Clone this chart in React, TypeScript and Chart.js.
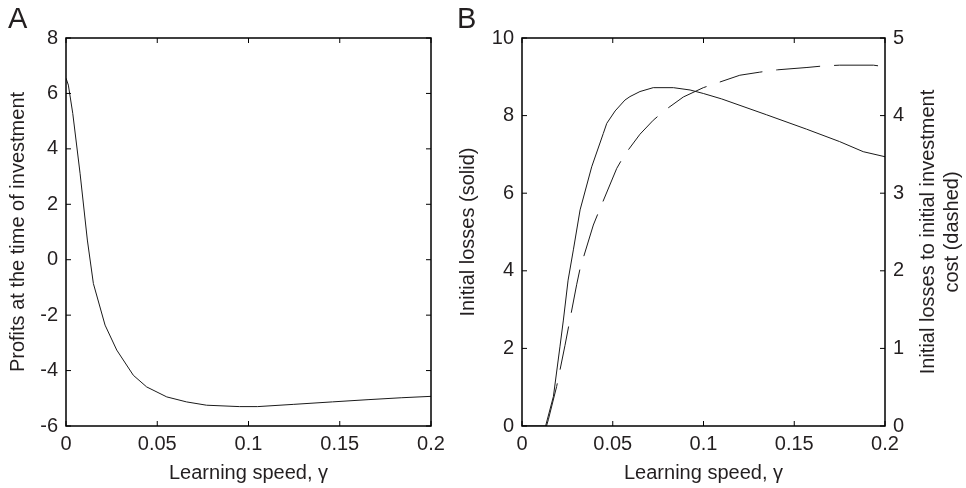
import React, { useEffect, useRef } from "react";
import { Chart, registerables } from "chart.js";

Chart.register(...registerables);

// Panel A: profits at the time of investment vs learning speed
const gammaA = [0, 0.0013, 0.0037, 0.0077, 0.0117, 0.015, 0.0214, 0.0278, 0.0369, 0.0442, 0.0552, 0.066, 0.077, 0.095, 0.105, 0.1245, 0.146, 0.1655, 0.184, 0.2];
const profitsA = [6.55, 6.3, 5.28, 3.12, 0.71, -0.86, -2.36, -3.26, -4.17, -4.59, -4.95, -5.13, -5.25, -5.3, -5.3, -5.22, -5.13, -5.05, -4.98, -4.93];

// Panel B: initial losses (solid, left axis)
const gammaSolid = [0, 0.013, 0.0173, 0.0209, 0.0228, 0.0254, 0.0283, 0.032, 0.0384, 0.0448, 0.0467, 0.0513, 0.0567, 0.0595, 0.065, 0.0723, 0.0834, 0.0926, 0.0999, 0.11, 0.1348, 0.1568, 0.175, 0.188, 0.2];
const lossesSolid = [0, 0, 0.76, 2.04, 2.73, 3.76, 4.54, 5.57, 6.68, 7.54, 7.8, 8.12, 8.4, 8.49, 8.62, 8.72, 8.72, 8.66, 8.57, 8.43, 8.02, 7.65, 7.33, 7.07, 6.94];

// Panel B: initial losses to initial investment cost (dashed, right axis)
const gammaDashed = [0.0135, 0.0145, 0.0191, 0.0237, 0.0264, 0.0301, 0.032, 0.0393, 0.0426, 0.0522, 0.0564, 0.065, 0.0723, 0.0788, 0.0889, 0.0999, 0.1087, 0.12, 0.131, 0.1407, 0.157, 0.166, 0.175, 0.1936, 0.2];
const ratioDashed = [0, 0.08, 0.51, 1.04, 1.37, 1.82, 2.03, 2.59, 2.78, 3.32, 3.49, 3.76, 3.94, 4.07, 4.24, 4.36, 4.43, 4.52, 4.56, 4.59, 4.62, 4.64, 4.65, 4.65, 4.63];

const xTickValues = [0, 0.05, 0.1, 0.15, 0.2];
const yTicksA = [-6, -4, -2, 0, 2, 4, 6, 8];
const yTicksB = [0, 2, 4, 6, 8, 10];
const yTicksB2 = [0, 1, 2, 3, 4, 5];

const xTitle = "Learning speed, \u03b3";
const yTitleA = "Profits at the time of investment";
const yTitleB = "Initial losses (solid)";
const yTitleB2 = ["Initial losses to initial investment", "cost (dashed)"];

const FONT = '"Liberation Sans", Arial, Helvetica, sans-serif';
const TEXT = "#231f20";
const LINE = "#1a1a1a";

const fmt = (v: number) => String(Number(Number(v).toFixed(3)));

const framePlugin = {
  id: "frame",
  afterDatasetsDraw(chart: any, _args: any, opts: any) {
    const { ctx, chartArea: a } = chart;
    ctx.save();
    ctx.strokeStyle = "#000";
    ctx.lineWidth = 1.5;
    ctx.strokeRect(a.left, a.top, a.right - a.left, a.bottom - a.top);
    ctx.lineWidth = 1;
    const L = 5;
    const sides = opts.sides || {};
    Object.keys(chart.scales).forEach((id) => {
      const s = chart.scales[id];
      const list: string[] = sides[id] || [];
      s.ticks.forEach((t: any) => {
        const p = s.getPixelForValue(t.value);
        list.forEach((side) => {
          ctx.beginPath();
          if (side === "bottom") { ctx.moveTo(p, a.bottom); ctx.lineTo(p, a.bottom - L); }
          if (side === "top") { ctx.moveTo(p, a.top); ctx.lineTo(p, a.top + L); }
          if (side === "left") { ctx.moveTo(a.left, p); ctx.lineTo(a.left + L, p); }
          if (side === "right") { ctx.moveTo(a.right, p); ctx.lineTo(a.right - L, p); }
          ctx.stroke();
        });
      });
    });
    ctx.fillStyle = TEXT;
    ctx.font = `29px ${FONT}`;
    ctx.textAlign = "left";
    ctx.textBaseline = "alphabetic";
    ctx.fillText(opts.letter, opts.letterX, 28);
    if (opts.rightTitle) {
      ctx.font = `20px ${FONT}`;
      ctx.textAlign = "center";
      ctx.textBaseline = "middle";
      const cy = (a.top + a.bottom) / 2;
      (opts.rightTitle as string[]).forEach((line, i) => {
        ctx.save();
        ctx.translate(opts.rightTitleX[i], cy);
        ctx.rotate(-Math.PI / 2);
        ctx.fillText(line, 0, 0);
        ctx.restore();
      });
    }
    ctx.restore();
  },
};

const tickFont = { family: FONT, size: 20 };

function xScale() {
  return {
    type: "linear" as const,
    min: 0,
    max: 0.2,
    afterBuildTicks: (s: any) => { s.ticks = xTickValues.map((v) => ({ value: v })); },
    ticks: { font: tickFont, color: TEXT, padding: 6, maxRotation: 0, callback: (v: any) => fmt(v) },
    grid: { display: false, drawTicks: false },
    border: { display: false },
    title: { display: true, text: xTitle, font: tickFont, color: TEXT, padding: { top: 0, bottom: 3 } },
    afterFit: (s: any) => { s.height = 62; },
  };
}

function yScale(min: number, max: number, values: number[], width: number, position: "left" | "right", title?: string) {
  return {
    type: "linear" as const,
    position,
    min,
    max,
    afterBuildTicks: (s: any) => { s.ticks = values.map((v) => ({ value: v })); },
    ticks: { font: tickFont, color: TEXT, padding: 8, callback: (v: any) => fmt(v) },
    grid: { display: false, drawTicks: false },
    border: { display: false },
    title: title
      ? { display: true, text: title, font: tickFont, color: TEXT, padding: { top: 6, bottom: 0 } }
      : { display: false },
    afterFit: (s: any) => { s.width = width; },
  };
}

export default function App() {
  const refA = useRef<HTMLCanvasElement>(null);
  const refB = useRef<HTMLCanvasElement>(null);

  useEffect(() => {
    const chartA = new Chart(refA.current!, {
      type: "line",
      data: {
        datasets: [
          {
            data: gammaA.map((x, i) => ({ x, y: profitsA[i] })),
            borderColor: LINE,
            borderWidth: 1,
            pointRadius: 0,
            fill: false,
            tension: 0,
          },
        ],
      },
      options: {
        responsive: false,
        animation: false,
        events: [],
        layout: { padding: { top: 38, right: 29, bottom: 0, left: 0 } },
        scales: {
          x: xScale(),
          y: yScale(-6, 8, yTicksA, 66, "left", yTitleA),
        },
        plugins: {
          legend: { display: false },
          tooltip: { enabled: false },
          frame: { sides: { x: ["bottom", "top"], y: ["left", "right"] }, letter: "A", letterX: 8 },
        } as any,
      },
      plugins: [framePlugin],
    });

    const chartB = new Chart(refB.current!, {
      type: "line",
      data: {
        datasets: [
          {
            data: gammaSolid.map((x, i) => ({ x, y: lossesSolid[i] })),
            borderColor: LINE,
            borderWidth: 1,
            pointRadius: 0,
            fill: false,
            tension: 0,
            yAxisID: "y",
          },
          {
            data: gammaDashed.map((x, i) => ({ x, y: ratioDashed[i] })),
            borderColor: LINE,
            borderWidth: 1,
            borderDash: [44, 14],
            pointRadius: 0,
            fill: false,
            tension: 0,
            yAxisID: "y1",
          },
        ],
      },
      options: {
        responsive: false,
        animation: false,
        events: [],
        layout: { padding: { top: 38, right: 0, bottom: 0, left: 0 } },
        scales: {
          x: xScale(),
          y: yScale(0, 10, yTicksB, 72, "left", yTitleB),
          y1: yScale(0, 5, yTicksB2, 81, "right"),
        },
        plugins: {
          legend: { display: false },
          tooltip: { enabled: false },
          frame: {
            sides: { x: ["bottom", "top"], y: ["left"], y1: ["right"] },
            letter: "B",
            letterX: 7,
            rightTitle: yTitleB2,
            rightTitleX: [478, 502],
          },
        } as any,
      },
      plugins: [framePlugin],
    });

    return () => {
      chartA.destroy();
      chartB.destroy();
    };
  }, []);

  return (
    <div style={{ position: "absolute", left: 0, top: 0, width: 966, height: 488, background: "#fff", overflow: "hidden" }}>
      <canvas ref={refA} width={460} height={488} style={{ position: "absolute", left: 0, top: 0, width: 460, height: 488 }} />
      <canvas ref={refB} width={516} height={488} style={{ position: "absolute", left: 450, top: 0, width: 516, height: 488 }} />
    </div>
  );
}
